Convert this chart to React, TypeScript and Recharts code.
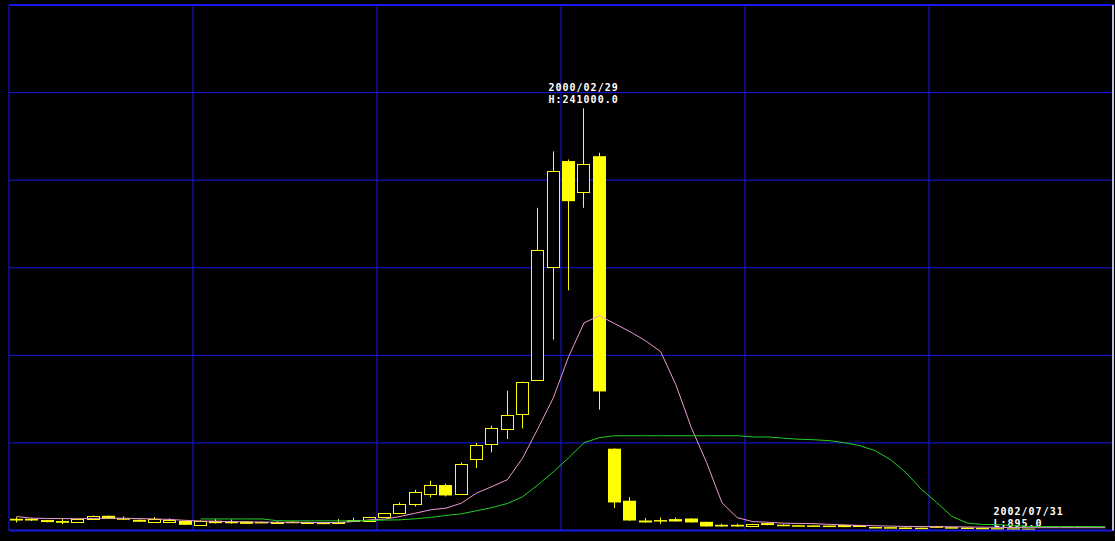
import React from 'react';
import { ComposedChart, Bar, Line, XAxis, YAxis, CartesianGrid, ReferenceLine } from 'recharts';

const years = ['1997', '1998', '1999', '2000', '2001', '2002'];
const monthNums = ['01', '02', '03', '04', '05', '06', '07', '08', '09', '10', '11', '12'];
const months: string[] = years.flatMap((y) => monthNums.map((m) => `${y}/${m}`));

// Monthly OHLC, 1997/01 .. 2002/07
const opens = [
  6700, 6700, 5950, 5400, 4950, 6700, 8400, 7000, 6100, 5000, 4800, 5550,
  3250, 5550, 5000, 5150, 4900, 4700, 5000, 4700, 4500, 4700, 5500, 5700,
  7650, 9950, 15100, 20800, 25950, 20800, 40800, 49350, 57950, 66500, 86100, 150500,
  210900, 193100, 213700, 46700, 17000, 5700, 5950, 6500, 6850, 4950, 3250, 3250,
  2500, 4200, 3300, 3000, 2900, 2800, 3100, 2300, 2000, 1900, 1700, 1600,
  2400, 1900, 1700, 1500, 1300, 1200, 1050,
];
const highs = [
  7650, 6900, 6100, 6500, 6500, 8600, 8500, 8000, 6300, 7650, 6900, 5700,
  5800, 6500, 6300, 5300, 5200, 5300, 5400, 5100, 4700, 6500, 7200, 7800,
  10000, 16000, 23250, 28400, 26700, 38850, 49950, 59800, 79800, 85000, 184200, 216400,
  211800, 241000, 215600, 46900, 19100, 7100, 7400, 7400, 7000, 5000, 3800, 3800,
  3900, 4300, 3500, 3200, 3000, 2900, 3200, 3200, 2100, 2000, 1800, 1700,
  2600, 2000, 1800, 1600, 1400, 1250, 1150,
];
const lows = [
  4570, 5500, 4700, 3650, 4800, 6600, 6600, 6000, 4900, 4900, 4700, 3100,
  3100, 4000, 3900, 3700, 4400, 4500, 4600, 4300, 3600, 3900, 5300, 5600,
  7600, 9370, 13700, 18850, 19450, 20800, 35650, 44550, 52200, 58300, 86000, 109000,
  137100, 184200, 69000, 12800, 5600, 4500, 3800, 5100, 4500, 2250, 2200, 2200,
  2400, 3000, 2900, 2600, 2600, 2400, 1900, 2200, 1650, 1450, 1350, 1250,
  1800, 1600, 1450, 1250, 1150, 950, 895,
];
const closes = [
  5700, 5700, 4800, 4400, 6300, 8400, 6700, 6800, 5000, 6300, 6100, 3250,
  5700, 4200, 4600, 3800, 4600, 5000, 4700, 4900, 3800, 4900, 6100, 7650,
  9950, 15100, 21950, 25950, 20000, 37950, 48950, 58500, 65950, 84800, 160400, 205400,
  188000, 209400, 79400, 16000, 5700, 4600, 5800, 5150, 4600, 2300, 2300, 2300,
  3800, 3100, 3000, 2700, 2700, 2500, 1950, 3100, 1700, 1500, 1400, 1300,
  1900, 1700, 1500, 1300, 1200, 1000, 950,
];

// Moving averages, 1997/01 .. 2002/12
const maShort = [
  8000, 7000, 6900, 6800, 6700, 6900, 7100, 7000, 6800, 6600, 6300, 5800,
  5400, 5200, 5100, 4900, 4800, 4700, 4700, 4600, 4500, 4600, 5100, 6100,
  6500, 8000, 9900, 11800, 12800, 15600, 21400, 25100, 29000, 41400, 58300, 75800,
  99300, 118500, 122700, 118100, 113500, 108400, 102100, 83000, 58700, 38700, 15800, 7300,
  5100, 4700, 4200, 4000, 3900, 3500, 3200, 2900, 2700, 2500, 2300, 2250,
  2200, 2100, 2000, 1900, 1800, 1700, 1600, 1600, 1600, 1600, 1600, 1600,
];
const maLong = [
  null, null, null, null, null, null, null, null, null, null, null, null,
  6600, 6600, 6600, 6600, 6600, 5600, 5500, 5500, 5500, 5500, 5500, 5700,
  5950, 6100, 6700, 7500, 8600, 9500, 11300, 13100, 15400, 19300, 26100, 33500,
  41500, 50100, 53000, 54100, 54100, 54100, 54100, 54100, 54100, 54100, 54100, 54100,
  53400, 53400, 52700, 52100, 51800, 51300, 50100, 48400, 45500, 40400, 33000, 23500,
  16000, 8000, 4230, 3430, 3400, 2690, 2300, 2300, 2300, 2300, 2250, 2200,
];

const yTicks = [0, 50000, 100000, 150000, 200000, 250000, 300000];
// year boundaries in month units
const xGridTicks = [0, 12, 24, 36, 48, 60, 72];

const noteMonths = ['2000/02', '2002/07'];
const noteDates = ['2000/02/29', '2002/07/31'];
const noteTexts = ['H:241000.0', 'L:895.0'];
const noteKinds = ['high', 'low'];

const data = months.map((m, i) => ({
  month: m,
  pos: i + 0.5,
  open: i < opens.length ? opens[i] : null,
  high: i < opens.length ? highs[i] : null,
  low: i < opens.length ? lows[i] : null,
  close: i < opens.length ? closes[i] : null,
  range: i < opens.length ? [lows[i], highs[i]] : null,
  maShort: maShort[i],
  maLong: maLong[i],
}));

const YELLOW = '#ffff00';
const GRID = '#1818e8';

function Candle(props: any) {
  const { x, y, width, height, payload } = props;
  if (!payload || payload.open == null || x == null || y == null) return <g />;
  const { open, close, high, low } = payload;
  const top = Math.min(y, y + height);
  const bot = Math.max(y, y + height);
  const span = high - low;
  const toY = (v: number) => top + (span > 0 ? (high - v) / span : 0) * (bot - top);
  const cx = Math.floor(x + width / 2) + 0.5;
  const up = close >= open;
  const bTop = toY(Math.max(open, close));
  const bBot = toY(Math.min(open, close));
  const hw = 6;
  const yHigh = toY(high);
  const yLow = toY(low);
  const idx = noteMonths.indexOf(payload.month);
  let note = null;
  if (idx >= 0) {
    const ty = noteKinds[idx] === 'high' ? yHigh : yLow;
    const d1 = noteKinds[idx] === 'high' ? -17.5 : -13.5;
    const d2 = noteKinds[idx] === 'high' ? -5.5 : -1.5;
    const ts = { fontFamily: 'DejaVu Sans Mono', fontWeight: 700, fontSize: 10, letterSpacing: 1, fill: '#ffffff' } as any;
    note = (
      <g>
        <text x={cx - 35} y={ty + d1} {...ts}>{noteDates[idx]}</text>
        <text x={cx - 35} y={ty + d2} {...ts}>{noteTexts[idx]}</text>
      </g>
    );
  }
  if (up) {
    const rt = Math.round(bTop) + 0.5;
    const rb = Math.round(bBot) + 0.5;
    return (
      <g>
        {yHigh < rt && <line x1={cx} x2={cx} y1={yHigh} y2={rt} stroke={YELLOW} strokeWidth={1} />}
        {yLow > rb && <line x1={cx} x2={cx} y1={rb} y2={yLow} stroke={YELLOW} strokeWidth={1} />}
        <rect x={cx - hw} y={rt} width={hw * 2} height={Math.max(rb - rt, 1)} fill="#000" stroke={YELLOW} strokeWidth={1} />
        {note}
      </g>
    );
  }
  return (
    <g>
      <line x1={cx} x2={cx} y1={yHigh} y2={yLow} stroke={YELLOW} strokeWidth={1} />
      <rect x={cx - hw - 0.5} y={bTop} width={hw * 2 + 1} height={Math.max(bBot - bTop, 1.5)} fill={YELLOW} />
      {note}
    </g>
  );
}

export default function App() {
  return (
    <div style={{ position: 'absolute', left: 0, top: 0, width: 1115, height: 541, background: '#000' }}>
      <ComposedChart
        width={1115}
        height={541}
        data={data}
        margin={{ top: 5, right: 2, bottom: 10.5, left: 9 }}
        style={{ background: '#000' }}
      >
        <XAxis dataKey="month" hide />
        <XAxis xAxisId="n" dataKey="pos" type="number" domain={[0, 72]} ticks={xGridTicks} allowDataOverflow hide />
        <YAxis hide type="number" domain={[0, 300000]} ticks={yTicks} allowDataOverflow />
        <CartesianGrid xAxisId="n" stroke={GRID} strokeWidth={1} />
        <ReferenceLine y={300000} stroke={GRID} strokeWidth={2} ifOverflow="visible" />
        <ReferenceLine y={0} stroke={GRID} strokeWidth={2} ifOverflow="visible" />
        <Bar dataKey="range" shape={<Candle />} isAnimationActive={false} />
        <Line dataKey="maShort" type="linear" stroke="#ee99d4" strokeWidth={1} dot={false} activeDot={false} isAnimationActive={false} />
        <Line dataKey="maLong" type="linear" stroke="#22d022" strokeWidth={1} dot={false} activeDot={false} isAnimationActive={false} />
        <ReferenceLine xAxisId="n" x={72} stroke="#ffffff" strokeWidth={1.5} ifOverflow="visible" />
      </ComposedChart>
    </div>
  );
}
